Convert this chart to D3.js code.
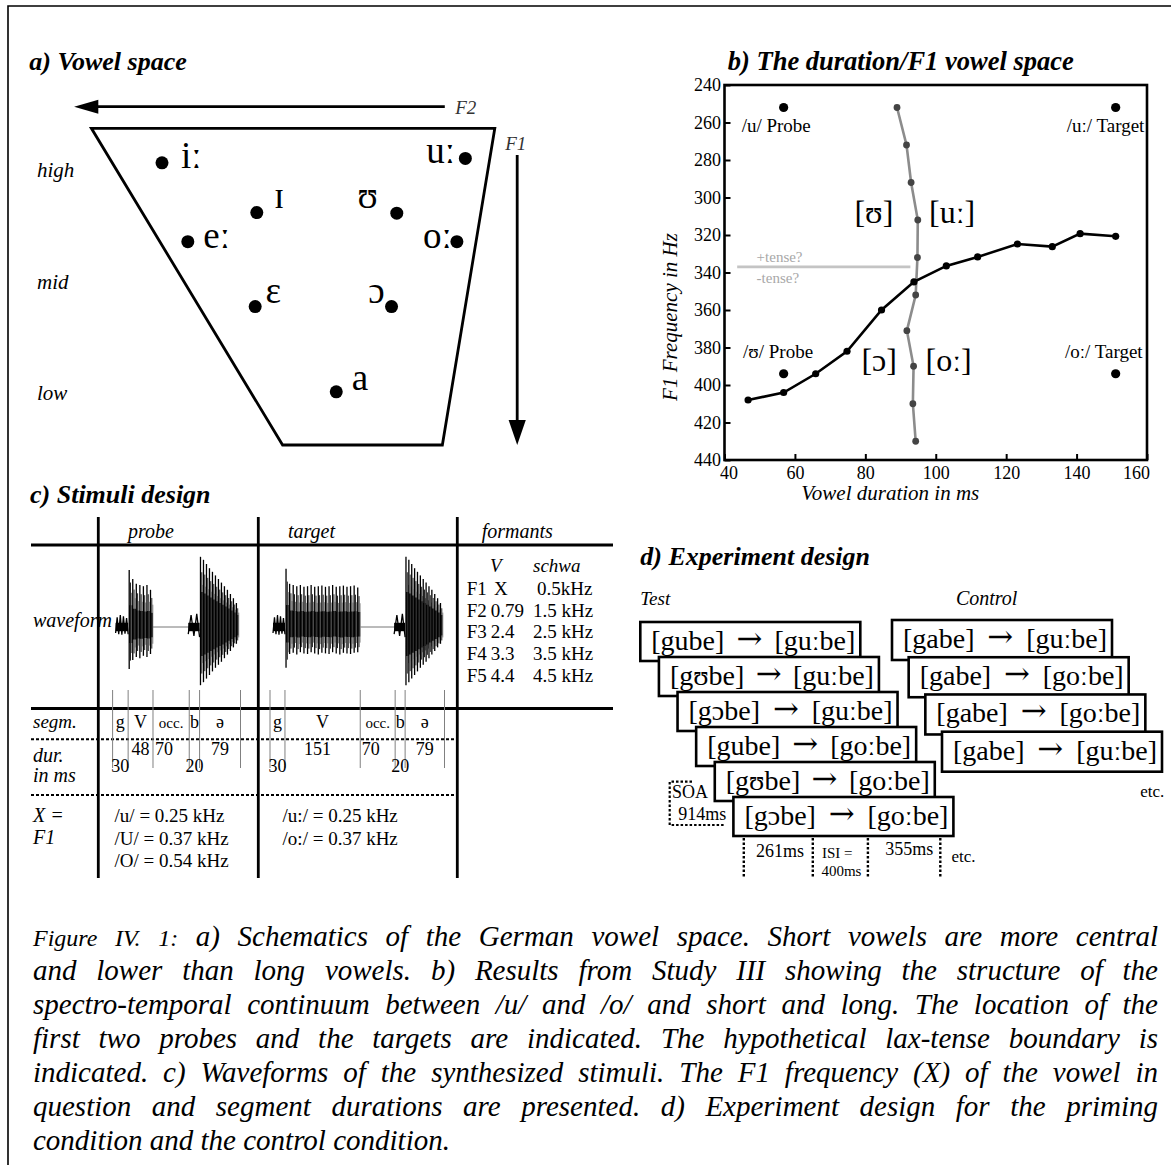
<!DOCTYPE html>
<html><head><meta charset="utf-8">
<script src="https://cdn.jsdelivr.net/npm/d3@7/dist/d3.min.js"></script>
<style>
html,body{margin:0;padding:0;background:#fff;}
svg{display:block;}
</style></head><body>
<svg id="fig" width="1171" height="1165" xmlns="http://www.w3.org/2000/svg"></svg>
<script>
// ================= DATA =================
// a) Vowel space (schematic: % across the F2 side / % down the F1 side of the trapezoid)
const vowelLabels = ["iː","uː","ɪ","ʊ","eː","oː","ɛ","ɔ","a"];
const vowelF2pos  = [17.5, 92.7, 41.0, 75.7, 23.9, 90.6, 40.6, 74.4, 60.7];
const vowelF1pos  = [10.9,  9.5, 26.6, 26.8, 35.8, 35.8, 56.3, 56.3, 83.2];
const heightLabels = ["high","mid","low"];

// b) duration / F1 vowel space
const durTicks = [40,60,80,100,120,140,160];
const f1Ticks  = [240,260,280,300,320,340,360,380,400,420,440];
const contDur  = [46.7,56.8,65.9,74.8,84.6,93.8,103.0,111.9,123.2,133.1,141.0,151.1];
const contF1   = [408,404,394,382,360,345,336.5,331.7,324.8,326.2,319.3,320.7];
const boundDur = [89.0,91.7,93.0,94.9,94.8,94.3,91.8,93.7,93.5,94.3];
const boundF1  = [252,272,292,312,332,352,371,390,410,430];
const stimNames = ["/u/ Probe","/uː/ Target","/ʊ/ Probe","/oː/ Target"];
const stimDur   = [56.8,151.1,56.8,151.1];
const stimF1    = [252,252,394,394];
const catNames  = ["[ʊ]","[uː]","[ɔ]","[oː]"];
const catDur    = [76.9,98.1,78.9,97.1];
const catF1     = [313.6,313.6,392.5,392.5];
const tenseF1   = 337;
const tenseDur  = [43.6,92.8];
const tenseLabels = ["+tense?","-tense?"];

// c) Stimuli design
const segLabels  = ["g","V","occ.","b","ə"];
const probeDurMs  = [30,48,70,20,79];
const targetDurMs = [30,151,70,20,79];
const formantNames  = ["F1","F2","F3","F4","F5"];
const formantVowel  = ["X","0.79","2.4","3.3","4.4"];
const formantSchwa  = ["0.5kHz","1.5 kHz","2.5 kHz","3.5 kHz","4.5 kHz"];
const probeF1Text   = ["/u/ = 0.25 kHz","/U/ = 0.37 kHz","/O/ = 0.54 kHz"];
const targetF1Text  = ["/u:/ = 0.25 kHz","/o:/ = 0.37 kHz"];
// waveform amplitudes (relative)
const gNoise       = [0.10,0.16,0.12,0.20,0.13,0.18,0.11,0.15,0.12];
const bNoise       = [0.12,0.20,0.15,0.22,0.17];
const probeVowUp   = [0.95,0.80,0.72,0.70,0.68,0.70,0.62];
const probeVowDn   = [0.70,0.55,0.50,0.52,0.48,0.50,0.45];
const targetVowUp  = [0.97,0.72,0.70,0.68,0.70,0.67,0.68,0.70,0.67,0.68,0.69,0.67,0.68,0.70,0.67,0.68,0.69,0.67,0.68,0.69,0.66];
const targetVowDn  = [0.68,0.45,0.43,0.46,0.42,0.44,0.45,0.42,0.44,0.46,0.43,0.44,0.45,0.42,0.44,0.46,0.43,0.44,0.45,0.43,0.42];
const schwaUp      = [1.17,1.12,1.05,0.98,0.92,0.86,0.80,0.74,0.68,0.62,0.55,0.48,0.40];
const schwaDn      = [0.97,0.92,0.86,0.80,0.74,0.68,0.63,0.58,0.52,0.46,0.40,0.34,0.28];

// d) Experiment design
const testPrimes   = ["[gube]","[gʊbe]","[gɔbe]","[gube]","[gʊbe]","[gɔbe]"];
const testTargets  = ["[guːbe]","[guːbe]","[guːbe]","[goːbe]","[goːbe]","[goːbe]"];
const controlPrimes  = ["[gabe]","[gabe]","[gabe]","[gabe]"];
const controlTargets = ["[guːbe]","[goːbe]","[goːbe]","[guːbe]"];

// Caption
const captionLines = [
 "Figure IV. 1: a) Schematics of the German vowel space. Short vowels are more central",
 "and lower than long vowels. b) Results from Study III showing the structure of the",
 "spectro-temporal continuum between /u/ and /o/ and short and long. The location of the",
 "first two probes and the targets are indicated. The hypothetical lax-tense boundary is",
 "indicated. c) Waveforms of the synthesized stimuli. The F1 frequency (X) of the vowel in",
 "question and segment durations are presented. d) Experiment design for the priming",
 "condition and the control condition."
];

// ================= DRAWING =================
const SERIF = '"Liberation Serif","Times New Roman",Times,serif';
const svg = d3.select("#fig").style("font-family", SERIF);
svg.append("rect").attr("width",1171).attr("height",1165).attr("fill","#fff");

function txt(parent, s, x, y, o = {}) {
  const t = parent.append("text").attr("x", x).attr("y", y).text(s)
    .attr("font-size", o.size || 19).attr("fill", o.fill || "#000");
  if (o.italic) t.attr("font-style", "italic");
  if (o.bold) t.attr("font-weight", "bold");
  if (o.anchor) t.attr("text-anchor", o.anchor);
  return t;
}
function seg(parent, x1, y1, x2, y2, w, col, dash) {
  const l = parent.append("line").attr("x1",x1).attr("y1",y1).attr("x2",x2).attr("y2",y2)
    .attr("stroke", col || "#000").attr("stroke-width", w || 1);
  if (dash) l.attr("stroke-dasharray", dash);
  return l;
}

// outer frame (left + top visible)
svg.append("path").attr("d","M8,1165V6H1171").attr("fill","none").attr("stroke","#000").attr("stroke-width",1.6);

// ---------- a) Vowel space ----------
const gA = svg.append("g");
txt(gA, "a) Vowel space", 29.3, 70, {size:26, bold:true, italic:true});
const xA = d3.scaleLinear([0,100],[91.4,494.8]);
const yA = d3.scaleLinear([0,100],[128.3,445]);
const trap = [[0,0],[100,0],[87.0,100],[47.4,100]];
gA.append("path").attr("d", d3.line().x(d=>xA(d[0])).y(d=>yA(d[1]))(trap) + "Z")
  .attr("fill","none").attr("stroke","#000").attr("stroke-width",2.8);
seg(gA, 444.8, 106.7, 96, 106.7, 2.8);
gA.append("path").attr("d","M74.1,106.7L98.3,99.7L98.3,113.7Z").attr("fill","#000");
txt(gA, "F2", 455.2, 114, {size:19, italic:true, fill:"#333"});
seg(gA, 517.2, 155, 517.2, 422, 2.8);
gA.append("path").attr("d","M517.2,445L508.6,420L525.8,420Z").attr("fill","#000");
txt(gA, "F1", 505.2, 150, {size:19, italic:true, fill:"#333"});
const heightY = d3.scalePoint(heightLabels, [177, 400]);
heightLabels.forEach(h => txt(gA, h, 37, heightY(h), {size:21, italic:true}));
const labOff = {"iː":[18.9,5,"start"],"uː":[-10.3,5,"end"],"ɪ":[17.2,-5,"start"],"ʊ":[-19,-5,"end"],
  "eː":[15.5,6,"start"],"oː":[-5.2,6,"end"],"ɛ":[10.3,-4,"start"],"ɔ":[-6.9,-4,"end"],"a":[15.5,-2,"start"]};
vowelLabels.forEach((v,i) => {
  const cx = xA(vowelF2pos[i]), cy = yA(vowelF1pos[i]);
  gA.append("circle").attr("cx",cx).attr("cy",cy).attr("r",6.5).attr("fill","#000");
  const o = labOff[v];
  txt(gA, v, cx + o[0], cy + o[1], {size:37, anchor:o[2]});
});

// ---------- b) duration / F1 ----------
const gB = svg.append("g");
txt(gB, "b) The duration/F1 vowel space", 727.8, 70, {size:26.5, bold:true, italic:true});
const xB = d3.scaleLinear([40,160],[724.5,1147]);
const yB = d3.scaleLinear([240,440],[85,460]);
const ax = gB.append("g").attr("transform","translate(0,460)")
  .call(d3.axisBottom(xB).tickValues(durTicks).tickSize(-6).tickPadding(6).tickFormat(d3.format("d")));
const ay = gB.append("g").attr("transform","translate(724.5,0)")
  .call(d3.axisLeft(yB).tickValues(f1Ticks).tickSize(-6).tickPadding(3.5).tickFormat(d3.format("d")));
[ax, ay].forEach(a => {
  a.select(".domain").remove();
  a.selectAll(".tick line").attr("stroke","#000").attr("stroke-width",2);
  a.selectAll(".tick text").attr("font-family",SERIF).attr("font-size",18).attr("fill","#000");
});
ax.selectAll(".tick text").attr("dx", d => d === 40 ? 4 : (d === 160 ? -11 : 0));
gB.append("rect").attr("x",724.5).attr("y",85).attr("width",1147-724.5).attr("height",375)
  .attr("fill","none").attr("stroke","#000").attr("stroke-width",2.6);
txt(gB, "Vowel duration in ms", 890.3, 500, {size:21, italic:true, anchor:"middle"});
gB.append("text").attr("transform","translate(677,317) rotate(-90)").attr("text-anchor","middle")
  .attr("font-size",21).attr("font-style","italic").text("F1 Frequency in Hz");
seg(gB, xB(tenseDur[0]), yB(tenseF1), xB(tenseDur[1]), yB(tenseF1), 2.6, "#c4c4c4");
txt(gB, tenseLabels[0], 756.6, yB(tenseF1) - 5, {size:15, fill:"#a8a8a8"});
txt(gB, tenseLabels[1], 756.6, yB(tenseF1) + 16, {size:15, fill:"#a8a8a8"});
const bPts = boundDur.map((d,i) => [xB(d), yB(boundF1[i])]);
gB.append("path").attr("d", d3.line()(bPts)).attr("fill","none").attr("stroke","#8c8c8c").attr("stroke-width",2.6);
bPts.forEach(p => gB.append("circle").attr("cx",p[0]).attr("cy",p[1]).attr("r",3.4).attr("fill","#444"));
const cPts = contDur.map((d,i) => [xB(d), yB(contF1[i])]);
gB.append("path").attr("d", d3.line()(cPts)).attr("fill","none").attr("stroke","#000").attr("stroke-width",2.6);
cPts.forEach(p => gB.append("circle").attr("cx",p[0]).attr("cy",p[1]).attr("r",3.6).attr("fill","#000"));
const stimOff = [[-42,24.5,"start"],[28.7,24.5,"end"],[-40.6,-16,"start"],[27,-16,"end"]];
stimNames.forEach((s,i) => {
  const cx = xB(stimDur[i]), cy = yB(stimF1[i]);
  gB.append("circle").attr("cx",cx).attr("cy",cy).attr("r",4.6).attr("fill","#000");
  txt(gB, s, cx + stimOff[i][0], cy + stimOff[i][1], {size:19, anchor:stimOff[i][2]});
});
catNames.forEach((c,i) => txt(gB, c, xB(catDur[i]), yB(catF1[i]), {size:32}));

// ---------- c) Stimuli design ----------
const gC = svg.append("g");
txt(gC, "c) Stimuli design", 30, 503, {size:26, bold:true, italic:true});
[98.3, 258.3, 457.3].forEach(x => seg(gC, x, 517, x, 878, 2.8));
seg(gC, 31, 545, 613, 545, 2.8);
seg(gC, 31, 708.5, 613, 708.5, 2.8);
seg(gC, 31, 739.3, 457, 739.3, 2, "#000", "3,2");
seg(gC, 31, 795, 457, 795, 2, "#000", "3,2");
txt(gC, "probe", 151, 538, {size:20, italic:true, anchor:"middle"});
txt(gC, "target", 288, 538, {size:20, italic:true});
txt(gC, "formants", 481.7, 538, {size:20, italic:true});
txt(gC, "segm.", 33, 728.3, {size:19, italic:true});
txt(gC, "dur.", 33, 761.7, {size:20, italic:true});
txt(gC, "in ms", 33, 781.7, {size:20, italic:true});
txt(gC, "X =", 33, 822, {size:20, italic:true});
txt(gC, "F1", 33, 844, {size:20, italic:true});
txt(gC, "V", 490, 571.7, {size:19, italic:true});
txt(gC, "schwa", 533, 571.7, {size:19, italic:true});
const fRowY = d3.scaleLinear([0,4],[595,681.7]);
formantNames.forEach((f,i) => {
  txt(gC, f, 466.7, fRowY(i), {size:19});
  txt(gC, formantVowel[i], i === 0 ? 494 : 490.7, fRowY(i), {size:19});
  txt(gC, formantSchwa[i], i === 0 ? 537 : 533, fRowY(i), {size:19});
});
const f1RowY = d3.scaleLinear([0,2],[822,867]);
probeF1Text.forEach((s,i) => txt(gC, s, 114.6, f1RowY(i), {size:19}));
targetF1Text.forEach((s,i) => txt(gC, s, 282.6, f1RowY(i), {size:19}));

const CY = 627;
const amp = d3.scaleLinear([-1,1],[CY+60, CY-60]);
function drawStim(durs, xr, vUp, vDn) {
  const total = d3.sum(durs);
  const xs = d3.scaleLinear([0,total], xr);
  const bounds = [0, ...Array.from(d3.cumsum(durs))];
  const g = gC.append("g");
  const X = i => xs(bounds[i]);
  function noise(vals, x0, x1) {
    const step = (x1 - x0) / (vals.length - 1);
    const pts = vals.map((v,k) => [x0 + k*step, k % 2 ? amp(v) : amp(-v)]);
    g.append("rect").attr("x",x0).attr("y",amp(0.07)).attr("width",x1-x0).attr("height",amp(-0.07)-amp(0.07)).attr("fill","#000");
    g.append("path").attr("d", d3.line()(pts)).attr("fill","none").attr("stroke","#000").attr("stroke-width",1.3);
  }
  function pulses(up, dn, x0, x1, core) {
    const n = up.length, w = (x1 - x0) / n;
    const px = up.map((u,k) => x0 + (k + 0.3) * w);
    const area = d3.area().x((d,k)=>px[k]).y0((d,k)=>amp(-dn[k]*core)).y1((d,k)=>amp(up[k]*core)).curve(d3.curveStepAfter);
    g.append("path").attr("d", area(up)).attr("fill","#000");
    g.append("rect").attr("x",px[n-1]).attr("y",amp(up[n-1]*core)).attr("width",Math.max(0,x1-px[n-1]))
      .attr("height",amp(-dn[n-1]*core)-amp(up[n-1]*core)).attr("fill","#000");
    up.forEach((u,k) => {
      seg(g, px[k], amp(u), px[k], amp(-dn[k]), 1.3, "#000");
      seg(g, px[k]+1.3, amp(u*0.78), px[k]+1.3, amp(-dn[k]*0.8), 1, "#222");
      seg(g, px[k]+2.3, amp(u*0.6), px[k]+2.3, amp(-dn[k]*0.62), 0.8, "#666");
    });
  }
  noise(gNoise, X(0) + 3, X(1));
  pulses(vUp, vDn, X(1), X(2), 0.38);
  seg(g, X(2), CY, X(3), CY, 1, "#777");
  noise(bNoise, X(3) - 1, X(4));
  pulses(schwaUp, schwaDn, X(4), X(5) - 2, 0.5);
  bounds.forEach(b => seg(g, xs(b), 690, xs(b), 768, 1, "#808080"));
  segLabels.forEach((s,i) => {
    const cx = (X(i) + X(i+1)) / 2;
    txt(g, s, cx, 728.3, {size: s === "occ." ? 15 : 18, anchor:"middle"});
    const lower = (i === 0 || i === 3);
    const shift = s === "occ." ? -7 : (s === "V" && durs[i] > 100 ? -5 : 0);
    txt(g, String(durs[i]), cx + shift, lower ? 771.7 : 755, {size:18, anchor:"middle"});
  });
}
drawStim(probeDurMs, [112.6, 240.5], probeVowUp, probeVowDn);
drawStim(targetDurMs, [270, 444.5], targetVowUp, targetVowDn);
txt(gC, "waveform", 33, 627, {size:20, italic:true});

// ---------- d) Experiment design ----------
const gD = svg.append("g");
txt(gD, "d) Experiment design", 640.3, 565, {size:26, bold:true, italic:true});
txt(gD, "Test", 640.3, 605, {size:19, italic:true});
txt(gD, "Control", 955.9, 605, {size:20, italic:true});
gD.append("path").attr("d","M692,781.7H669.7V825H724").attr("fill","none").attr("stroke","#000")
  .attr("stroke-width",2.2).attr("stroke-dasharray","2.5,2");
txt(gD, "SOA", 672, 798.3, {size:18});
txt(gD, "914ms", 678.3, 820, {size:18});
const BOX_W = 220;
function pairBox(x, y, h, prime, target) {
  gD.append("rect").attr("x",x).attr("y",y).attr("width",BOX_W).attr("height",h)
    .attr("fill","#fff").attr("stroke","#000").attr("stroke-width",2.6);
  const p = txt(gD, prime, x + 11, y + 28, {size:28});
  const t = txt(gD, target, x + BOX_W - 5, y + 28, {size:28, anchor:"end"});
  const pEnd = x + 11 + p.node().getComputedTextLength();
  const tStart = x + BOX_W - 5 - t.node().getComputedTextLength();
  gD.append("text").attr("x",(pEnd + tStart)/2).attr("y", y + 27).attr("text-anchor","middle")
    .attr("font-family","'DejaVu Serif',serif").attr("font-size",31).text("→");
}
const tX = d3.scaleLinear([0, testPrimes.length-1], [640.3, 733.4]);
const tY = d3.scaleLinear([0, testPrimes.length-1], [622, 797]);
testPrimes.forEach((p,i) => pairBox(tX(i), tY(i), 39, p, testTargets[i]));
const cX = d3.scaleLinear([0, controlPrimes.length-1], [892, 942]);
const cYs = d3.scaleLinear([0, controlPrimes.length-1], [620, 731.7]);
controlPrimes.forEach((p,i) => pairBox(cX(i), cYs(i), 40, p, controlTargets[i]));
txt(gD, "etc.", 1140.3, 796.7, {size:17});
[743.8, 812.8, 867.9, 940.3].forEach(x => seg(gD, x, 838, x, 877, 2.4, "#000", "2.5,2"));
txt(gD, "261ms", 755.9, 856.7, {size:18});
txt(gD, "355ms", 885.2, 855, {size:18});
txt(gD, "ISI =", 822, 858, {size:15});
txt(gD, "400ms", 821.4, 876, {size:15});
txt(gD, "etc.", 951.4, 861.7, {size:17});

// ---------- Caption (justified) ----------
const capG = svg.append("g").attr("font-style","italic");
const capL = 33, capR = 1158, capSize = 29;
const capY = d3.scaleLinear([0, captionLines.length-1], [946, 1150]);
captionLines.forEach((line, li) => {
  const words = line.split(" ");
  const sizes = words.map((w,wi) => (li === 0 && wi < 3) ? 24 : capSize);
  const tmp = capG.append("text");
  const widths = words.map((w,wi) => { tmp.attr("font-size", sizes[wi]).text(w); return tmp.node().getComputedTextLength(); });
  tmp.remove();
  const last = li === captionLines.length - 1;
  const gap = last ? capSize * 0.25 : (capR - capL - d3.sum(widths)) / (words.length - 1);
  const t = capG.append("text").attr("y", capY(li));
  let x = capL;
  words.forEach((w,wi) => { t.append("tspan").attr("x", x).attr("font-size", sizes[wi]).text(w); x += widths[wi] + gap; });
});
</script>
</body></html>
